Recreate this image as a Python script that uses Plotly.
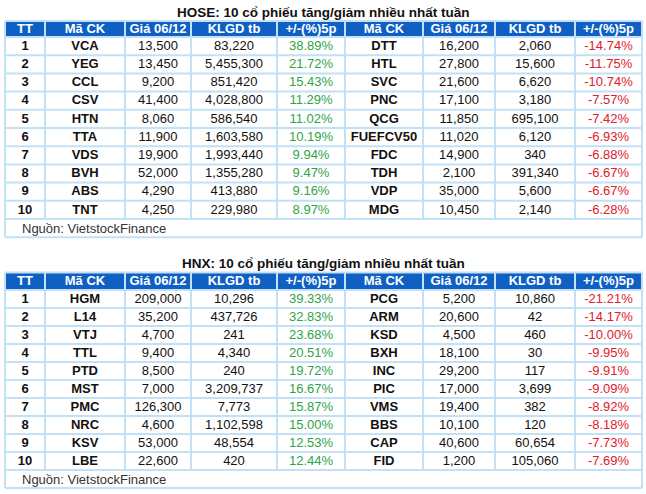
import plotly.graph_objects as go

# ---------------- data ----------------
headers = ["TT", "Mã CK", "Giá 06/12", "KLGD tb", "+/-(%)5p", "Mã CK", "Giá 06/12", "KLGD tb", "+/-(%)5p"]
ranks = [1, 2, 3, 4, 5, 6, 7, 8, 9, 10]

hose_title = "HOSE: 10 cổ phiếu tăng/giảm nhiều nhất tuần"
hose_up_code = ["VCA", "YEG", "CCL", "CSV", "HTN", "TTA", "VDS", "BVH", "ABS", "TNT"]
hose_up_price = [13500, 13450, 9200, 41400, 8060, 11900, 19900, 52000, 4290, 4250]
hose_up_vol = [83220, 5455300, 851420, 4028800, 586540, 1603580, 1993440, 1355280, 413880, 229980]
hose_up_pct = [38.89, 21.72, 15.43, 11.29, 11.02, 10.19, 9.94, 9.47, 9.16, 8.97]
hose_dn_code = ["DTT", "HTL", "SVC", "PNC", "QCG", "FUEFCV50", "FDC", "TDH", "VDP", "MDG"]
hose_dn_price = [16200, 27800, 21600, 17100, 11850, 11020, 14900, 2100, 35000, 10450]
hose_dn_vol = [2060, 15600, 6620, 3180, 695100, 6120, 340, 391340, 5600, 2140]
hose_dn_pct = [-14.74, -11.75, -10.74, -7.57, -7.42, -6.93, -6.88, -6.67, -6.67, -6.28]

hnx_title = "HNX: 10 cổ phiếu tăng/giảm nhiều nhất tuần"
hnx_up_code = ["HGM", "L14", "VTJ", "TTL", "PTD", "MST", "PMC", "NRC", "KSV", "LBE"]
hnx_up_price = [209000, 35200, 4700, 9400, 8500, 7000, 126300, 4600, 53000, 22600]
hnx_up_vol = [10296, 437726, 241, 4340, 240, 3209737, 7773, 1102598, 48554, 420]
hnx_up_pct = [39.33, 32.83, 23.68, 20.51, 19.72, 16.67, 15.87, 15.00, 12.53, 12.44]
hnx_dn_code = ["PCG", "ARM", "KSD", "BXH", "INC", "PIC", "VMS", "BBS", "CAP", "FID"]
hnx_dn_price = [5200, 20600, 4500, 18100, 29200, 17000, 19400, 10100, 40600, 1200]
hnx_dn_vol = [10860, 42, 460, 30, 117, 3699, 382, 120, 60654, 105060]
hnx_dn_pct = [-21.21, -14.17, -10.00, -9.95, -9.91, -9.09, -8.92, -8.18, -7.73, -7.69]

source_text = "Nguồn: VietstockFinance"

# ---------------- style / geometry ----------------
W, H = 646, 494
FONT = "Liberation Sans, Arial, sans-serif"
HEAD_BG = "#1060c4"
GRID = "#c2e0f6"
GREEN = "#2ea44a"
RED = "#e0202c"
TXT = "#111111"
col_widths = [40, 80, 66, 86, 68, 78, 72, 80, 67]
X0 = 5
edges = [X0]
for w in col_widths:
    edges.append(edges[-1] + w)
X1 = edges[-1]
centers = [(edges[i] + edges[i + 1]) / 2 for i in range(len(col_widths))]


def fmt(v):
    return f"{v:,}"


def pct(v):
    return f"{v:.2f}%"


fig = go.Figure()
shapes = []


def add_block(title, title_y, top, head_h, row_h, up, dn):
    up_code, up_price, up_vol, up_pct = up
    dn_code, dn_price, dn_vol, dn_pct = dn
    cols = [
        [f"<b>{r}</b>" for r in ranks],
        [f"<b>{c}</b>" for c in up_code],
        [fmt(v) for v in up_price],
        [fmt(v) for v in up_vol],
        [pct(v) for v in up_pct],
        [f"<b>{c}</b>" for c in dn_code],
        [fmt(v) for v in dn_price],
        [fmt(v) for v in dn_vol],
        [pct(v) for v in dn_pct],
    ]
    colors = [TXT] * 4 + [GREEN] + [TXT] * 3 + [RED]
    n = len(ranks)
    body_top = top + head_h
    row_edges = [body_top + i * row_h for i in range(n + 1)]
    body_bot = row_edges[-1]
    src_bot = body_bot + row_h

    # header fill
    shapes.append(dict(type="rect", x0=X0, x1=X1, y0=top, y1=body_top,
                       fillcolor=HEAD_BG, line=dict(width=0), layer="below"))
    # horizontal grid lines
    for y in [top, body_top] + row_edges[1:] + [src_bot]:
        shapes.append(dict(type="line", x0=X0, x1=X1, y0=y, y1=y,
                           line=dict(color=GRID, width=2), layer="below"))
    # vertical grid lines
    for i, x in enumerate(edges):
        y_end = src_bot if i in (0, len(edges) - 1) else body_bot
        shapes.append(dict(type="line", x0=x, x1=x, y0=top, y1=y_end,
                           line=dict(color=GRID, width=2), layer="below"))

    # header text
    fig.add_trace(go.Scatter(
        x=centers, y=[(top + body_top) / 2 + 0.5] * len(headers),
        text=[f"<b>{h}</b>" for h in headers], mode="text",
        textposition="middle center",
        textfont=dict(family=FONT, size=13, color="white"),
        hoverinfo="skip", showlegend=False,
    ))
    # body text, column by column
    for j, col in enumerate(cols):
        fig.add_trace(go.Scatter(
            x=[centers[j]] * n,
            y=[(row_edges[i] + row_edges[i + 1]) / 2 + 0.5 for i in range(n)],
            text=col, mode="text", textposition="middle center",
            textfont=dict(family=FONT, size=13, color=colors[j]),
            hoverinfo="skip", showlegend=False,
        ))
    # title
    fig.add_annotation(x=(X0 + X1) / 2, y=title_y, xref="x", yref="y",
                       text=f"<b>{title}</b>", showarrow=False,
                       font=dict(family=FONT, size=13.5, color="#111111"),
                       xanchor="center", yanchor="middle")
    # source
    fig.add_annotation(x=X0 + 15, y=(body_bot + src_bot) / 2 + 0.5, xref="x", yref="y",
                       text=source_text, showarrow=False,
                       font=dict(family=FONT, size=13, color="#333333"),
                       xanchor="left", yanchor="middle")


add_block(hose_title, 12.5, 21, 16, 18.2,
          (hose_up_code, hose_up_price, hose_up_vol, hose_up_pct),
          (hose_dn_code, hose_dn_price, hose_dn_vol, hose_dn_pct))
add_block(hnx_title, 263, 272.5, 17.5, 18.0,
          (hnx_up_code, hnx_up_price, hnx_up_vol, hnx_up_pct),
          (hnx_dn_code, hnx_dn_price, hnx_dn_vol, hnx_dn_pct))

fig.update_layout(
    width=W, height=H,
    margin=dict(l=0, r=0, t=0, b=0),
    paper_bgcolor="white", plot_bgcolor="white",
    shapes=shapes,
    xaxis=dict(range=[0, W], visible=False, fixedrange=True),
    yaxis=dict(range=[H, 0], visible=False, fixedrange=True),
)

fig.write_html(
    "out.html",
    config={"displayModeBar": False},
    post_script="document.body.style.margin='0px';document.body.style.overflow='hidden';",
)
